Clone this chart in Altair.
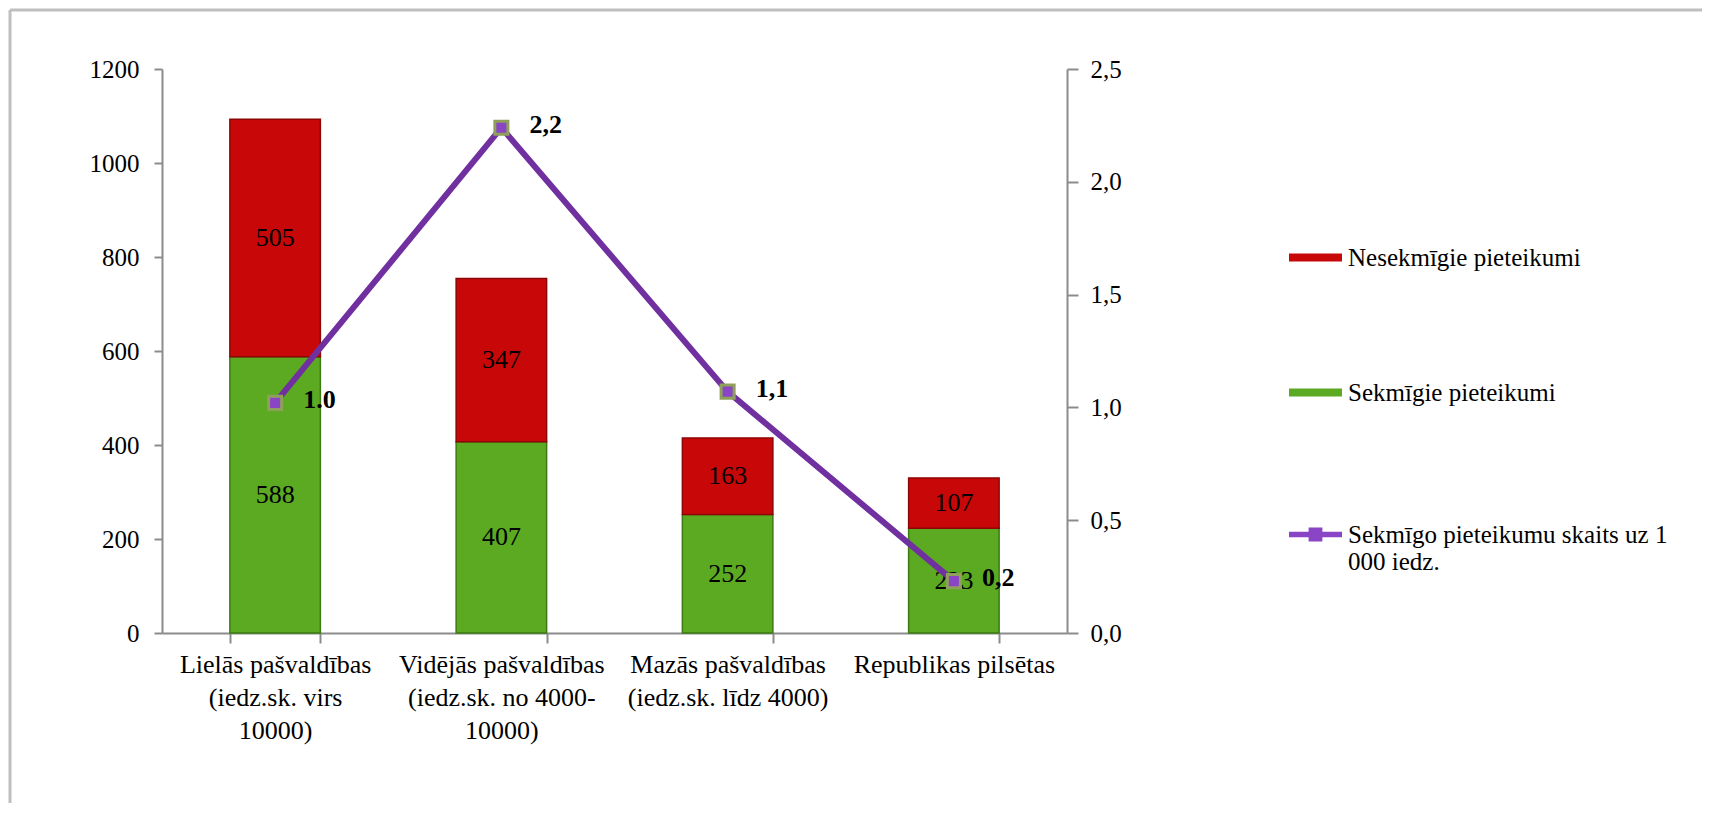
import altair as alt
import pandas as pd

# ---- data ----
categories = [
    "Lielās pašvaldības\n(iedz.sk. virs\n10000)",
    "Vidējās pašvaldības\n(iedz.sk. no 4000-\n10000)",
    "Mazās pašvaldības\n(iedz.sk. līdz 4000)",
    "Republikas pilsētas",
]
series_names = [
    "Nesekmīgie pieteikumi",
    "Sekmīgie pieteikumi",
    "Sekmīgo pieteikumu skaits uz 1 000 iedz.",
]
successful = [588, 407, 252, 223]
unsuccessful = [505, 347, 163, 107]
rate = [1.02, 2.24, 1.07, 0.23]
rate_labels = ["1.0", "2,2", "1,1", "0,2"]
series_colors = ["#C80808", "#5BAA22", "#7030A0"]

FONT = "Liberation Serif"
GRAY = "#8C8C8C"

bar_rows = []
for c, s, u in zip(categories, successful, unsuccessful):
    bar_rows.append({"category": c, "series": series_names[1], "value": s, "ord": 0})
    bar_rows.append({"category": c, "series": series_names[0], "value": u, "ord": 1})
bars_df = pd.DataFrame(bar_rows)

line_df = pd.DataFrame({
    "category": categories,
    "rate": rate,
    "label": rate_labels,
    "series": series_names[2],
})

frame_df = pd.DataFrame({"k": [0]})

line_name = series_names[2]

bar_legend = alt.Legend(
    title=None, orient="none", legendX=1127, legendY=162,
    symbolType="M-1,-0.15H1V0.15H-1Z", symbolSize=2809, symbolStrokeWidth=0,
    symbolOpacity=1,
    labelFont=FONT, labelFontSize=25, labelColor="black",
    labelLimit=500, labelOffset=6, rowPadding=95,
)

line_legend = alt.Legend(
    title=None, orient="none", legendX=1127, legendY=439,
    symbolType="M-1,-0.1H-0.26V-0.26H0.26V-0.1H1V0.1H0.26V0.26H-0.26V0.1H-1Z",
    symbolSize=2809, symbolStrokeWidth=0, symbolOpacity=1,
    labelFont=FONT, labelFontSize=25, labelColor="black", labelLimit=500, labelOffset=6,
    labelExpr="['Sekmīgo pieteikumu skaits uz 1', '000 iedz.']",
)

x_axis = alt.Axis(labelExpr="split(datum.label, '\\n')", labelAngle=0,
                  labelFont=FONT, labelFontSize=26, labelColor="black",
                  labelLineHeight=33, labelPadding=8, labelLimit=400,
                  labelOverlap=False, labelBound=False,
                  tickBand="extent", tickSize=10, tickColor=GRAY, tickWidth=2,
                  domainColor=GRAY, domainWidth=2)

base_bars = alt.Chart(bars_df).transform_stack(
    stack="value", groupby=["category"], as_=["y0", "y1"],
    sort=[alt.SortField("ord", order="ascending")],
)

y_left = alt.Scale(domain=[0, 1200])
bars = base_bars.mark_bar(strokeWidth=1.5).encode(
    x=alt.X("category:N", sort=categories, title=None,
            scale=alt.Scale(paddingInner=0.6, paddingOuter=0.3), axis=x_axis),
    y=alt.Y("y0:Q", scale=y_left, title=None,
            axis=alt.Axis(values=[0, 200, 400, 600, 800, 1000, 1200], format="d",
                          labelFont=FONT,
                          labelFontSize=25, labelColor="black", labelPadding=15,
                          tickSize=8, tickColor=GRAY, tickWidth=2,
                          domainColor=GRAY, domainWidth=2, grid=False)),
    y2="y1:Q",
    color=alt.Color("series:N", scale=alt.Scale(domain=series_names[:2],
                                                range=series_colors[:2]),
                    legend=bar_legend),
    stroke=alt.Stroke("series:N", scale=alt.Scale(domain=series_names[:2],
                                                    range=["#8E0505", "#3C7A12"]),
                      legend=None),
)

bar_text = base_bars.transform_calculate(mid="(datum.y0 + datum.y1) / 2").mark_text(
    font=FONT, fontSize=26, color="black", baseline="middle"
).encode(
    x=alt.X("category:N", sort=categories, title=None),
    y=alt.Y("mid:Q", scale=y_left, title=None),
    text="value:Q",
)

y_right = alt.Scale(domain=[0, 2.5])
line = alt.Chart(line_df).mark_line(strokeWidth=6, color=series_colors[2]).encode(
    x=alt.X("category:N", sort=categories, title=None),
    y=alt.Y("rate:Q", scale=y_right, title=None,
            axis=alt.Axis(orient="right", values=[0, 0.5, 1, 1.5, 2, 2.5],
                          labelExpr="replace(format(datum.value, '.1f'), '.', ',')",
                          labelFont=FONT, labelFontSize=25, labelColor="black",
                          labelPadding=12, tickSize=11, tickColor=GRAY, tickWidth=2,
                          domainColor=GRAY, domainWidth=2, grid=False)),
)

points = alt.Chart(line_df).mark_point(
    shape="square", filled=True, size=170, stroke="#8FA05A",
    strokeWidth=3, opacity=1
).encode(
    x=alt.X("category:N", sort=categories, title=None),
    y=alt.Y("rate:Q", scale=y_right, title=None),
    fill=alt.Fill("series:N", scale=alt.Scale(domain=[line_name], range=["#8A45C6"]),
                  legend=line_legend),
)

point_labels = alt.Chart(line_df).mark_text(
    font=FONT, fontSize=26, fontWeight="bold", color="black", align="left",
    baseline="middle", dx=28, dy=-3
).encode(
    x=alt.X("category:N", sort=categories, title=None),
    y=alt.Y("rate:Q", scale=y_right, title=None),
    text="label:N",
)

# outer chart-area border (only its top and left edges fall inside the picture)
frame_top = alt.Chart(frame_df).mark_rule(color="#BFBFBF", strokeWidth=3).encode(
    x=alt.value(-152), x2=alt.value(1540), y=alt.value(-59)
)
frame_left = alt.Chart(frame_df).mark_rule(color="#BFBFBF", strokeWidth=3).encode(
    x=alt.value(-152), y=alt.value(-59), y2=alt.value(734)
)

left_layer = alt.layer(bars, bar_text)
right_layer = alt.layer(line, points, point_labels)

chart = alt.layer(frame_top, frame_left, left_layer, right_layer).resolve_scale(
    y="independent"
).properties(
    width=905, height=564, padding=0,
).configure(font=FONT).configure_axis(
    labelFont=FONT, labelFontSize=25, labelColor="black"
).configure_view(stroke=None)

chart.save("out.html", embed_options={"renderer": "svg", "actions": False})
